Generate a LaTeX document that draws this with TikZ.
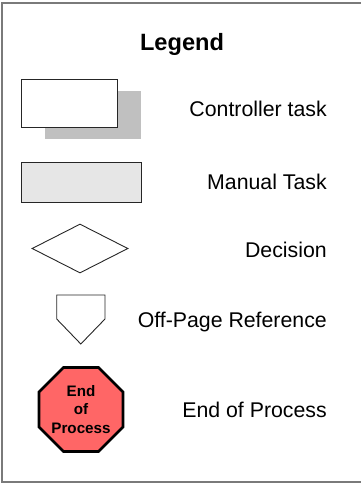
\documentclass[tikz,border=0pt]{standalone}
\usepackage{fontspec}
\setmainfont{Liberation Sans}
\usetikzlibrary{shapes.geometric}

\definecolor{shadowgray}{HTML}{C0C0C0}
\definecolor{manualgray}{HTML}{E6E6E6}
\definecolor{stopred}{HTML}{FF6666}
\definecolor{framegray}{HTML}{7A7A7A}

\tikzset{
  legendtext/.style={anchor=base east,inner sep=0pt,font=\fontsize{21.3}{25}\selectfont},
  shapeline/.style={draw=black!85,line width=0.9pt,inner sep=0pt},
}

\begin{document}
\begin{tikzpicture}[x=1pt,y=-1pt]
\useasboundingbox (0,0) rectangle (361,483);

% frame
\draw[framegray,line width=1.6pt] (2,2.7) rectangle (366,482);

% title
\node[anchor=base,inner sep=0pt,font=\fontsize{23.6}{28}\selectfont\bfseries] (title) at (182,50) {Legend};

% symbols
\node[fill=shadowgray,minimum width=96pt,minimum height=48pt,inner sep=0pt] (ctrlshadow) at (93,115) {};
\node[shapeline,fill=white,minimum width=96pt,minimum height=48pt] (ctrl) at (69,103) {};
\node[shapeline,fill=manualgray,minimum width=120pt,minimum height=40pt] (manual) at (81,182) {};
\node[shapeline,diamond,minimum width=96pt,minimum height=49pt] (decision) at (80,248.5) {};
\draw[black!85,line width=0.9pt] (56.7,295) -- (105,295) -- (105,319) -- (80.8,344) -- (56.7,319) -- cycle;
\node[regular polygon,regular polygon sides=8,minimum size=91pt,inner sep=0pt,
      draw=black,line width=2.6pt,fill=stopred,align=center,
      font=\fontsize{15.2}{18.7}\selectfont\bfseries] (endproc) at (81,409.5) {End\\of\\Process};

% labels
\node[legendtext] (ctrllabel) at (327,116) {Controller task};
\node[legendtext] (manuallabel) at (327,189) {Manual Task};
\node[legendtext] (decisionlabel) at (327,257) {Decision};
\node[legendtext] (offpagelabel) at (327,327.5) {Off-Page Reference};
\node[legendtext] (endlabel) at (327,417) {End of Process};

\end{tikzpicture}
\end{document}
